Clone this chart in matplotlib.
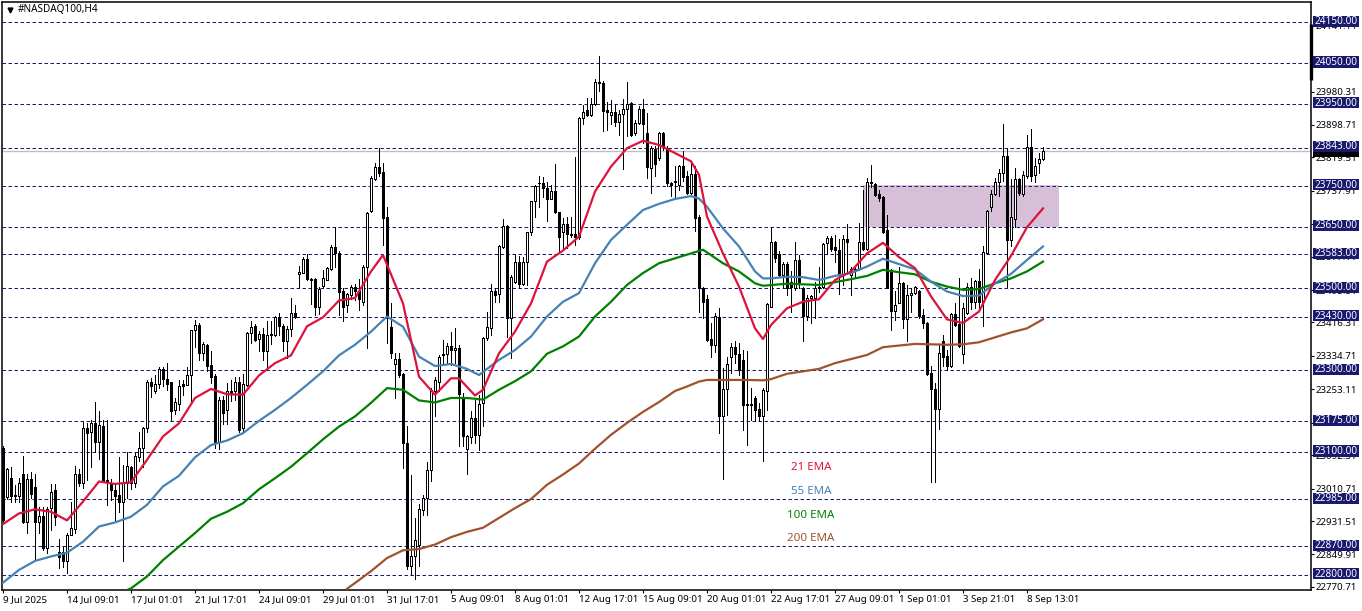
import matplotlib
matplotlib.use('Agg')
import matplotlib.pyplot as plt
from matplotlib.patches import Rectangle

plt.rcParams['font.family'] = ['Noto Sans', 'DejaVu Sans']

opens = [23109,22990,23036,22994,22993,23046,22930,23033,23014,22928,
22944,22865,22963,23006,22857,22857,22835,22897,22911,23046,
23024,23158,23148,23170,23125,23164,23032,23024,23006,22995,
22979,23024,23063,23025,23089,23111,23158,23271,23250,23267,
23302,23278,23271,23202,23217,23266,23264,23287,23398,23411,
23343,23362,23313,23286,23125,23228,23202,23248,23248,23272,
23158,23264,23390,23408,23376,23388,23346,23388,23386,23429,
23408,23372,23400,23439,23534,23538,23571,23523,23523,23455,
23505,23520,23548,23600,23586,23492,23458,23484,23502,23492,
23467,23551,23689,23766,23795,23785,23673,23405,23314,23327,
23290,23122,22822,22845,22872,22958,22987,23057,23248,23272,
23338,23340,23359,23348,23353,23235,23107,23137,23183,23142,
23219,23378,23402,23492,23485,23600,23653,23427,23516,23563,
23510,23563,23638,23713,23758,23758,23744,23718,23738,23685,
23638,23656,23632,23632,23626,23916,23936,23924,23950,24004,
24001,23936,23922,23930,23905,23926,23938,23952,23878,23904,
23938,23879,23793,23841,23818,23879,23843,23757,23760,23751,
23798,23773,23733,23779,23675,23500,23474,23376,23362,23429,
23189,23253,23333,23356,23340,23325,23217,23217,23231,23205,
23187,23250,23455,23612,23583,23533,23559,23516,23500,23569,
23500,23431,23476,23476,23504,23504,23611,23622,23600,23594,
23535,23620,23533,23547,23547,23612,23596,23760,23754,23730,
23722,23642,23545,23445,23465,23512,23424,23483,23488,23493,
23435,23415,23293,23253,23205,23372,23335,23309,23437,23412,
23339,23439,23504,23467,23518,23467,23587,23699,23729,23759,
23782,23824,23617,23669,23767,23731,23775,23845,23777,23806,23816]
highs = [23115,23060,23063,23020,23036,23090,23046,23050,23046,22965,
22965,22965,23022,23022,22887,22869,22902,22979,23066,23059,
23174,23170,23178,23221,23199,23177,23177,23033,23024,23089,
23069,23101,23067,23097,23150,23162,23275,23280,23289,23307,
23307,23317,23271,23232,23276,23276,23307,23398,23423,23415,
23368,23364,23347,23290,23235,23236,23268,23275,23282,23282,
23291,23392,23419,23412,23396,23402,23420,23420,23433,23439,
23412,23407,23476,23459,23555,23577,23584,23525,23525,23503,
23545,23553,23606,23649,23590,23500,23489,23508,23510,23523,
23557,23685,23773,23807,23842,23805,23698,23463,23341,23343,
23292,23164,23043,22940,22972,22995,23076,23256,23283,23337,
23374,23366,23394,23402,23362,23245,23141,23199,23228,23240,
23380,23443,23510,23500,23606,23668,23655,23533,23581,23579,
23577,23638,23714,23752,23773,23771,23760,23752,23803,23687,
23671,23673,23673,23821,23918,23948,23965,23965,24012,24068,
24005,23956,23959,23950,23936,23961,24004,23956,23912,23944,
23962,23928,23847,23847,23881,23881,23847,23759,23798,23802,
23834,23786,23806,23798,23680,23502,23484,23415,23439,23451,
23305,23333,23367,23370,23366,23349,23347,23256,23236,23219,
23256,23463,23649,23616,23590,23565,23563,23541,23614,23581,
23504,23484,23484,23516,23553,23610,23628,23628,23630,23620,
23630,23657,23553,23553,23659,23740,23769,23801,23756,23740,
23724,23679,23547,23492,23553,23516,23508,23500,23506,23496,
23449,23417,23310,23268,23362,23386,23350,23439,23465,23524,
23465,23512,23524,23520,23546,23603,23691,23740,23769,23790,
23900,23840,23767,23793,23769,23786,23874,23888,23818,23831,23845]
lows = [22930,22985,22979,22979,22979,22926,22902,22987,22836,22902,
22861,22853,22910,22922,22816,22820,22804,22897,22902,23016,
23011,23032,23064,23101,23082,23028,22971,22983,22932,22954,
22835,22987,23010,23014,23077,23064,23150,23234,23245,23256,
23260,23252,23175,23193,23203,23240,23264,23221,23356,23325,
23325,23297,23268,23111,23107,23168,23168,23225,23228,23150,
23146,23260,23366,23370,23347,23325,23301,23364,23384,23386,
23347,23329,23384,23427,23500,23537,23520,23461,23435,23437,
23503,23519,23545,23553,23435,23421,23443,23473,23472,23447,
23459,23354,23687,23765,23773,23606,23366,23330,23231,23284,
23061,22815,22800,22791,22821,22946,22946,23030,23187,23250,
23317,23317,23313,23317,23114,23114,23046,23122,23122,23106,
23163,23374,23386,23467,23467,23598,23382,23329,23512,23500,
23508,23508,23630,23675,23698,23723,23665,23717,23684,23585,
23598,23598,23626,23606,23620,23900,23920,23920,23948,23981,
23883,23886,23900,23897,23873,23790,23871,23871,23873,23900,
23855,23769,23733,23773,23814,23838,23749,23725,23720,23741,
23761,23729,23729,23639,23443,23427,23372,23333,23345,23146,
23034,23190,23293,23317,23288,23154,23118,23179,23179,23175,
23077,23203,23453,23565,23528,23504,23484,23443,23496,23500,
23370,23423,23415,23427,23490,23500,23584,23590,23565,23486,
23508,23535,23484,23528,23545,23594,23594,23748,23726,23712,
23634,23500,23398,23422,23463,23402,23370,23441,23486,23427,
23402,23288,23026,23026,23156,23309,23301,23307,23408,23357,
23317,23437,23449,23451,23451,23408,23585,23689,23727,23724,
23761,23504,23602,23649,23728,23726,23770,23761,23759,23782,23814]
closes = [22935,23058,22993,22993,23024,22928,23033,22998,22928,22944,
22865,22960,23003,22942,22843,22835,22897,22914,23046,23025,
23158,23146,23170,23125,23166,23030,23028,23006,22993,22979,
23024,23067,23025,23090,23111,23158,23271,23262,23266,23302,
23278,23267,23201,23222,23262,23262,23289,23397,23409,23343,
23363,23311,23282,23125,23228,23195,23248,23244,23272,23154,
23266,23390,23406,23374,23388,23346,23386,23385,23429,23407,
23372,23400,23439,23429,23539,23571,23522,23521,23455,23498,
23524,23549,23600,23586,23490,23455,23486,23502,23492,23473,
23553,23683,23769,23795,23781,23671,23427,23341,23327,23288,
23122,22822,22845,22885,22960,22987,23057,23252,23275,23332,
23339,23360,23349,23353,23241,23140,23139,23183,23142,23218,
23378,23406,23492,23484,23602,23653,23427,23528,23563,23510,
23563,23637,23713,23750,23756,23744,23718,23738,23685,23624,
23656,23632,23630,23626,23916,23930,23924,23951,24004,24001,
23934,23930,23930,23905,23926,23938,23950,23873,23904,23938,
23900,23795,23842,23803,23879,23847,23757,23751,23762,23798,
23771,23733,23779,23672,23500,23467,23374,23362,23431,23189,
23253,23314,23356,23340,23301,23215,23216,23216,23203,23187,
23252,23462,23612,23575,23533,23559,23500,23502,23568,23514,
23431,23476,23481,23500,23501,23607,23622,23596,23594,23535,
23620,23614,23547,23543,23612,23596,23760,23756,23728,23720,
23638,23500,23445,23459,23512,23424,23484,23488,23502,23433,
23415,23291,23253,23205,23341,23333,23309,23437,23410,23359,
23451,23504,23467,23518,23467,23588,23689,23729,23759,23781,
23824,23617,23675,23767,23733,23777,23845,23775,23799,23816,23835]

# EMAs, bar number / price
ema21_x = [0,4,8,12,16,20,24,28,32,36,40,44,48,52,56,60,64,68,72,76,80,84,88,92,95,100,104,108,112,114,118,120,124,128,132,136,140,144,148,152,156,160,164,168,172,174,176,180,184,188,190,192,196,200,204,208,212,216,220,224,228,232,236,240,244,248,252,256,260]
ema21_y = [22924,22950,22960,22954,22933,22979,23028,23022,23026,23081,23138,23170,23232,23254,23241,23240,23287,23317,23336,23407,23429,23470,23476,23541,23581,23463,23284,23240,23280,23280,23238,23252,23341,23394,23463,23565,23592,23626,23736,23797,23842,23860,23850,23830,23810,23777,23675,23585,23504,23402,23376,23410,23451,23467,23473,23520,23541,23585,23611,23576,23549,23480,23424,23415,23443,23520,23579,23649,23695]
ema55_x = [0,4,8,12,16,20,24,28,32,36,40,44,48,52,56,60,64,68,72,76,80,84,88,92,96,100,104,108,112,116,119,124,128,132,136,140,144,148,152,156,160,164,168,172,174,176,180,184,188,190,192,196,200,204,208,212,216,220,224,228,232,236,240,244,248,252,256,260]
ema55_y = [22781,22812,22834,22845,22854,22881,22918,22928,22942,22971,23016,23042,23087,23117,23128,23146,23176,23203,23232,23264,23297,23336,23362,23394,23431,23406,23333,23310,23315,23303,23288,23325,23349,23382,23431,23467,23488,23561,23618,23655,23691,23706,23718,23725,23719,23699,23646,23602,23541,23524,23524,23528,23527,23520,23530,23537,23553,23572,23559,23546,23516,23492,23481,23482,23512,23535,23569,23602]
ema100_x = [31,32,36,40,44,48,52,56,60,64,68,72,76,80,84,88,92,96,100,104,108,112,116,120,124,128,132,136,140,144,148,152,156,160,164,168,172,175,180,184,188,190,196,204,212,216,220,224,228,232,236,240,244,248,252,256,260]
ema100_y = [22763,22767,22796,22836,22869,22902,22937,22954,22975,23009,23036,23064,23097,23131,23162,23187,23220,23256,23252,23226,23221,23232,23232,23228,23252,23273,23297,23340,23358,23382,23431,23467,23508,23537,23561,23573,23585,23594,23561,23541,23512,23506,23511,23508,23522,23530,23545,23539,23534,23516,23504,23496,23498,23512,23524,23541,23565]
ema200_x = [86,88,92,96,100,104,108,112,116,120,124,128,132,136,140,144,148,152,156,160,164,168,171,174,176,180,186,190,192,196,200,204,208,212,216,220,224,228,232,236,240,244,248,252,256,260]
ema200_y = [22766,22780,22809,22841,22860,22863,22874,22892,22905,22915,22939,22963,22985,23020,23045,23072,23108,23142,23171,23198,23222,23249,23260,23272,23276,23276,23276,23275,23278,23291,23297,23303,23317,23327,23337,23356,23360,23364,23363,23362,23363,23368,23380,23392,23402,23424]

levels = [24150,24050,23950,23843,23750,23650,23583,23500,23430,23300,23175,23100,22985,22870,22800]
price_ticks = [24141.11,24059.51,23980.31,23898.71,23819.51,23737.91,23656.31,23577.11,23495.51,23416.31,
               23334.71,23253.11,23171.51,23092.31,23010.71,22931.51,22849.91,22770.71]
time_ticks = list(range(0, 261, 16))
time_labels = ['9 Jul 2025','14 Jul 09:01','17 Jul 01:01','21 Jul 17:01','24 Jul 09:01','29 Jul 01:01',
               '31 Jul 17:01','5 Aug 09:01','8 Aug 01:01','12 Aug 17:01','15 Aug 09:01','20 Aug 01:01',
               '22 Aug 17:01','27 Aug 09:01','1 Sep 01:01','3 Sep 21:01','8 Sep 13:01']
last_price = 23835
zone_bars = (215, 264)
zone_prices = (23650, 23752)
ema_notes = [('21 EMA', 197, 23062, 'crimson'), ('55 EMA', 197, 23003, 'steelblue'),
             ('100 EMA', 196, 22945, 'green'), ('200 EMA', 196, 22888, 'sienna')]

W, H = 1362, 611
fig = plt.figure(figsize=(W / 100, H / 100), dpi=100)
ax = fig.add_axes([2 / W, (H - 590) / H, 1309 / W, 588 / H])
ax.set_xlim(-0.25, 327)
ax.set_ylim(22763, 24199)

ax.add_patch(Rectangle((zone_bars[0], zone_prices[0]), zone_bars[1] - zone_bars[0],
                       zone_prices[1] - zone_prices[0], fc='#d8bfd8', ec='none', zorder=1))
ax.axhline(last_price, color='#c0c0c0', lw=1.0, zorder=1.5)
for lv in levels:
    ax.axhline(lv, color='#191970', lw=0.72, ls=(0, (3.5, 2.5)), zorder=1.6)

# candles
for i in range(len(opens)):
    ax.vlines(i, lows[i], highs[i], color='k', lw=0.72, antialiased=False, zorder=2)
    bottom = min(opens[i], closes[i])
    height = abs(closes[i] - opens[i])
    face = 'white' if closes[i] >= opens[i] else 'k'
    ax.bar(i, height, bottom=bottom, width=0.5, facecolor=face, edgecolor='k', linewidth=0.72,
           antialiased=False, zorder=2.2)

ax.plot(ema200_x, ema200_y, color='sienna', lw=1.6, zorder=3)
ax.plot(ema100_x, ema100_y, color='green', lw=1.6, zorder=3)
ax.plot(ema55_x, ema55_y, color='steelblue', lw=1.6, zorder=3)
ax.plot(ema21_x, ema21_y, color='crimson', lw=1.6, zorder=3)

for txt, bar_x, price, col in ema_notes:
    ax.text(bar_x, price, txt, color=col, fontsize=8.3, va='center', ha='left')

ax.yaxis.tick_right()
ax.set_yticks(price_ticks)
ax.set_yticklabels(['%.2f' % p for p in price_ticks])
ax.set_xticks(time_ticks)
ax.set_xticklabels(time_labels, ha='left')
ax.tick_params(axis='y', length=2.5, width=0.8, labelsize=7.0, pad=1)
ax.tick_params(axis='x', length=2.5, width=0.8, labelsize=7.0, pad=1)
for s in ax.spines.values():
    s.set_linewidth(1.1)

# price tags over the axis labels
tr = ax.get_yaxis_transform()
box_x = 1 + 2 / 1309
box_w = 46 / 1309
ax.add_patch(Rectangle((box_x, last_price - 13.5), box_w, 27, transform=tr, fc='k', ec='none',
                       clip_on=False, zorder=5))
for lv in levels:
    ax.add_patch(Rectangle((box_x, lv - 11), box_w, 27, transform=tr, fc='#191970', ec='none',
                           clip_on=False, zorder=6))
    ax.text(box_x + box_w / 2, lv + 2, '%.2f' % lv, transform=tr, color='white', fontsize=7.2,
            ha='center', va='center', clip_on=False, zorder=7)
ax.plot([1, 1], [24008, 24145], transform=tr, color='k', lw=2.4, solid_capstyle='butt',
        clip_on=False, zorder=5)

# title
ax.plot([8 / 1309], [0.9865], marker='v', ms=3.5, color='k', transform=ax.transAxes, clip_on=False)
ax.text(16 / 1309, 0.9865, '#NASDAQ100,H4', transform=ax.transAxes, fontsize=7.2, va='center', ha='left')

fig.savefig('out.png', dpi=100)
